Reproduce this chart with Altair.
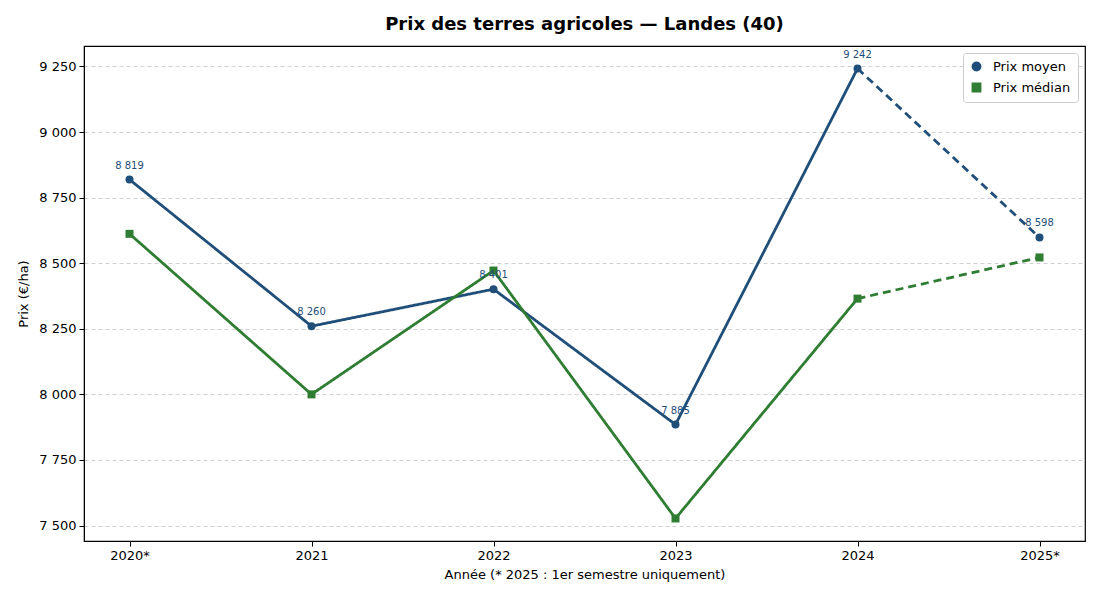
import altair as alt
import pandas as pd

# Valeurs (EUR/ha)
annees = ["2020*", "2021", "2022", "2023", "2024", "2025*"]
prix_moyen = [8819, 8260, 8401, 7885, 9242, 8598]
prix_median = [8612, 8000, 8472, 7527, 8365, 8522]

series = ["Prix moyen", "Prix médian"]
couleurs = ["#1f4e79", "#2e7d32"]
y_ticks = [7500, 7750, 8000, 8250, 8500, 8750, 9000, 9250]

font = "DejaVu Sans"


def fmt(v):
    return f"{v:,}".replace(",", " ")


points = pd.DataFrame({
    "annee": annees * 2,
    "prix": prix_moyen + prix_median,
    "serie": [series[0]] * 6 + [series[1]] * 6,
})
points["label"] = points["prix"].map(fmt)

# lignes : trait plein jusqu'en 2024, tirets de 2024 à 2025* (1er semestre)
rows = []
n = len(annees)
for serie, vals in zip(series, [prix_moyen, prix_median]):
    for i, (a, v) in enumerate(zip(annees, vals)):
        if i < n - 1:
            rows.append({"annee": a, "prix": v, "serie": serie, "trait": "plein"})
        if i >= n - 2:
            rows.append({"annee": a, "prix": v, "serie": serie, "trait": "tirets"})
lignes = pd.DataFrame(rows)

x_enc = alt.X("annee:N", sort=annees,
              scale=alt.Scale(type="point", padding=0.25),
              axis=alt.Axis(title="Année (* 2025 : 1er semestre uniquement)",
                            labelAngle=0, grid=False))
y_enc = alt.Y("prix:Q",
              scale=alt.Scale(domain=[7441, 9328], nice=False, zero=False),
              axis=alt.Axis(title="Prix (€/ha)", values=y_ticks,
                            labelExpr="replace(format(datum.value, ',d'), ',', ' ')",
                            grid=True, gridDash=[4, 3], gridColor="#d0d0d0"))
color_scale = alt.Scale(domain=series, range=couleurs)
shape_scale = alt.Scale(domain=series, range=["circle", "square"])
legende = alt.Legend(title=None)

line_layer = alt.Chart(lignes).mark_line(strokeWidth=2.8).encode(
    x=x_enc,
    y=y_enc,
    color=alt.Color("serie:N", scale=color_scale, legend=legende),
    strokeDash=alt.StrokeDash("trait:N",
                              scale=alt.Scale(domain=["plein", "tirets"],
                                              range=[[1, 0], [8, 5]]),
                              legend=None),
    detail="serie:N",
)

point_layer = alt.Chart(points).mark_point(filled=True, size=64, opacity=1).encode(
    x=x_enc,
    y=y_enc,
    color=alt.Color("serie:N", scale=color_scale, legend=legende),
    shape=alt.Shape("serie:N", scale=shape_scale, legend=legende),
)

label_layer = alt.Chart(points).transform_filter(
    alt.datum.serie == "Prix moyen"
).mark_text(dy=-14, fontSize=10, font=font, color=couleurs[0]).encode(
    x=x_enc,
    y=y_enc,
    text="label:N",
)

chart = alt.layer(line_layer, point_layer, label_layer).properties(
    width=1001,
    height=495,
    title=alt.Title("Prix des terres agricoles — Landes (40)", font=font,
                    fontSize=18, fontWeight="bold", color="black", offset=12),
    autosize=alt.AutoSizeParams(type="none"),
    padding={"left": 76, "top": 38, "right": 6, "bottom": 50},
).configure_view(
    stroke="black", strokeWidth=1.2
).configure_axis(
    labelFont=font, titleFont=font, labelFontSize=13, titleFontSize=13,
    titleFontWeight="normal", labelColor="black", titleColor="black",
    domainColor="black", tickColor="black", tickSize=5, labelPadding=3,
).configure_axisX(
    titlePadding=6,
).configure_axisY(
    titlePadding=8,
).configure_legend(
    orient="top-right", offset=7, padding=7, fillColor="white",
    strokeColor="#cccccc", cornerRadius=3, labelFont=font, labelFontSize=13,
    labelColor="black", symbolSize=70, rowPadding=6, labelOffset=10,
    symbolOpacity=1,
)

chart.save("out.html", embed_options={"renderer": "svg", "actions": False})
